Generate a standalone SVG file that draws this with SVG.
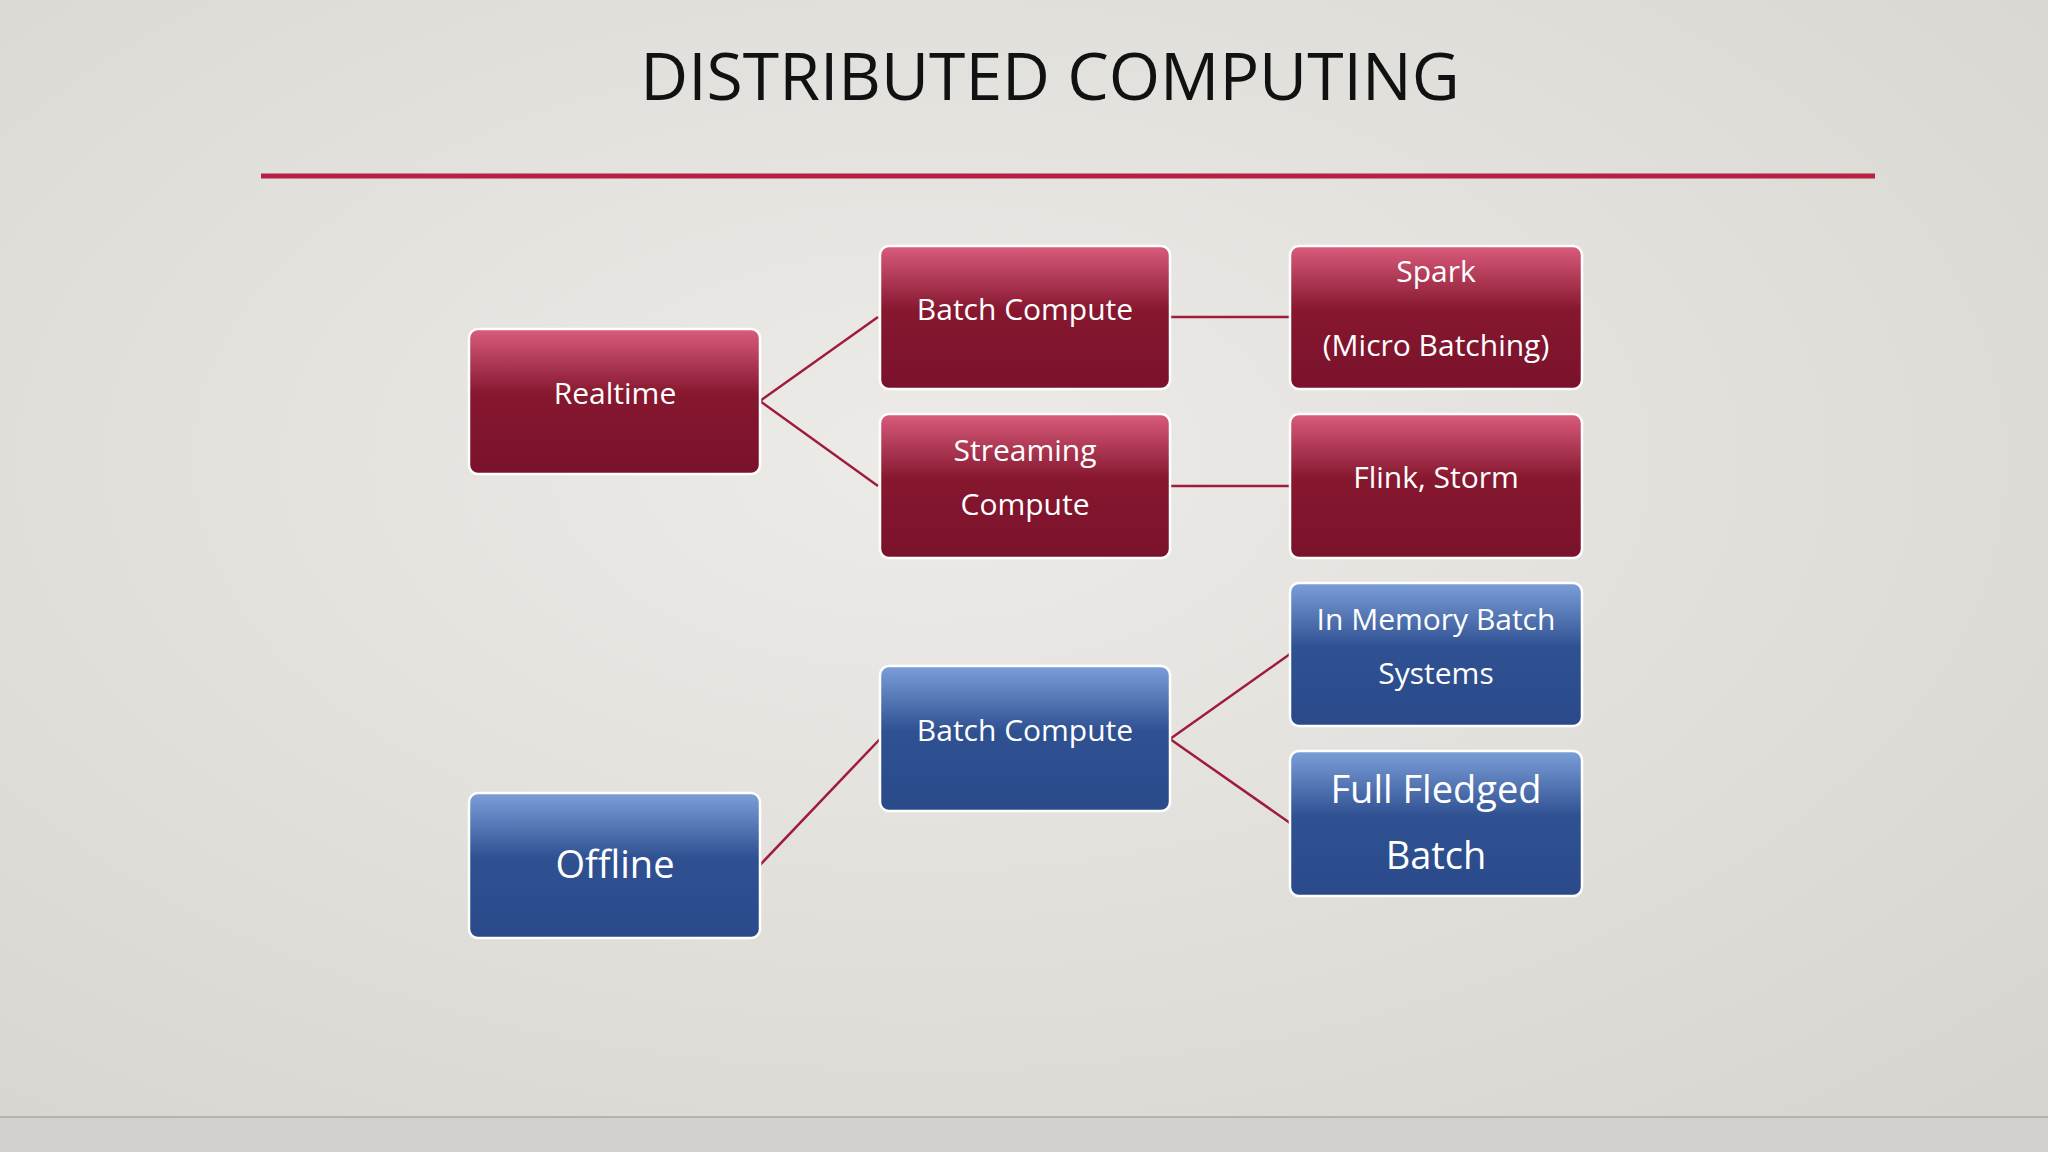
<svg xmlns="http://www.w3.org/2000/svg" width="2048" height="1152" viewBox="0 0 2048 1152">
<defs>
<radialGradient id="bg" cx="0.45" cy="0.4" r="0.8"><stop offset="0" stop-color="#ecebe7"/><stop offset="1" stop-color="#d6d4cf"/></radialGradient>
<linearGradient id="red" x1="0" y1="0" x2="0" y2="1"><stop offset="0" stop-color="#d95c7c"/><stop offset="0.45" stop-color="#86172f"/><stop offset="1" stop-color="#7a122b"/></linearGradient>
<linearGradient id="blue" x1="0" y1="0" x2="0" y2="1"><stop offset="0" stop-color="#7c9ed8"/><stop offset="0.45" stop-color="#2f5192"/><stop offset="1" stop-color="#2a4a8a"/></linearGradient>
<style>
.r{fill:url(#red);stroke:#fff;stroke-width:2.5}
.b{fill:url(#blue);stroke:#fff;stroke-width:2.5}
.t{font-family:"Open Sans","Noto Sans",sans-serif;font-size:30px;fill:#fff;text-anchor:middle}
.big{font-size:38px}
.c{stroke:#a01c3c;stroke-width:2.5;fill:none}
</style>
</defs>
<rect width="2048" height="1152" fill="url(#bg)"/>
<rect y="1117" width="2048" height="35" fill="#d3d1cd"/>
<line x1="0" y1="1117" x2="2048" y2="1117" stroke="#b5b3af" stroke-width="2"/>
<text x="1050" y="100" font-family="Open Sans,Noto Sans,sans-serif" font-size="66" text-anchor="middle" fill="#111">DISTRIBUTED COMPUTING</text>
<line x1="261" y1="176" x2="1875" y2="176" stroke="#b81f45" stroke-width="5"/>
<g id="connectors">
<path class="c" d="M760 401L878 317M760 401L878 486M1170 317H1290M1170 486H1290M1170 739L1290 654M1170 739L1290 823M760 865L880 739"/>
</g>
<g id="realtime"><rect class="r" x="469" y="329" width="291" height="145" rx="9"/><text class="t" x="615" y="404">Realtime</text></g>
<g id="batch1"><rect class="r" x="880" y="246" width="290" height="143" rx="9"/><text class="t" x="1025" y="320">Batch Compute</text></g>
<g id="streaming"><rect class="r" x="880" y="414" width="290" height="144" rx="9"/><text class="t" x="1025" y="461">Streaming</text><text class="t" x="1025" y="515">Compute</text></g>
<g id="spark"><rect class="r" x="1290" y="246" width="292" height="143" rx="9"/><text class="t" x="1436" y="282">Spark</text><text class="t" x="1436" y="356">(Micro Batching)</text></g>
<g id="flink"><rect class="r" x="1290" y="414" width="292" height="144" rx="9"/><text class="t" x="1436" y="488">Flink, Storm</text></g>
<g id="inmemory"><rect class="b" x="1290" y="583" width="292" height="143" rx="9"/><text class="t" x="1436" y="630">In Memory Batch</text><text class="t" x="1436" y="684">Systems</text></g>
<g id="fullfledged"><rect class="b" x="1290" y="751" width="292" height="145" rx="9"/><text class="t big" x="1436" y="803">Full Fledged</text><text class="t big" x="1436" y="869">Batch</text></g>
<g id="batch2"><rect class="b" x="880" y="666" width="290" height="145" rx="9"/><text class="t" x="1025" y="741">Batch Compute</text></g>
<g id="offline"><rect class="b" x="469" y="793" width="291" height="145" rx="9"/><text class="t big" x="615" y="878">Offline</text></g>
</svg>
